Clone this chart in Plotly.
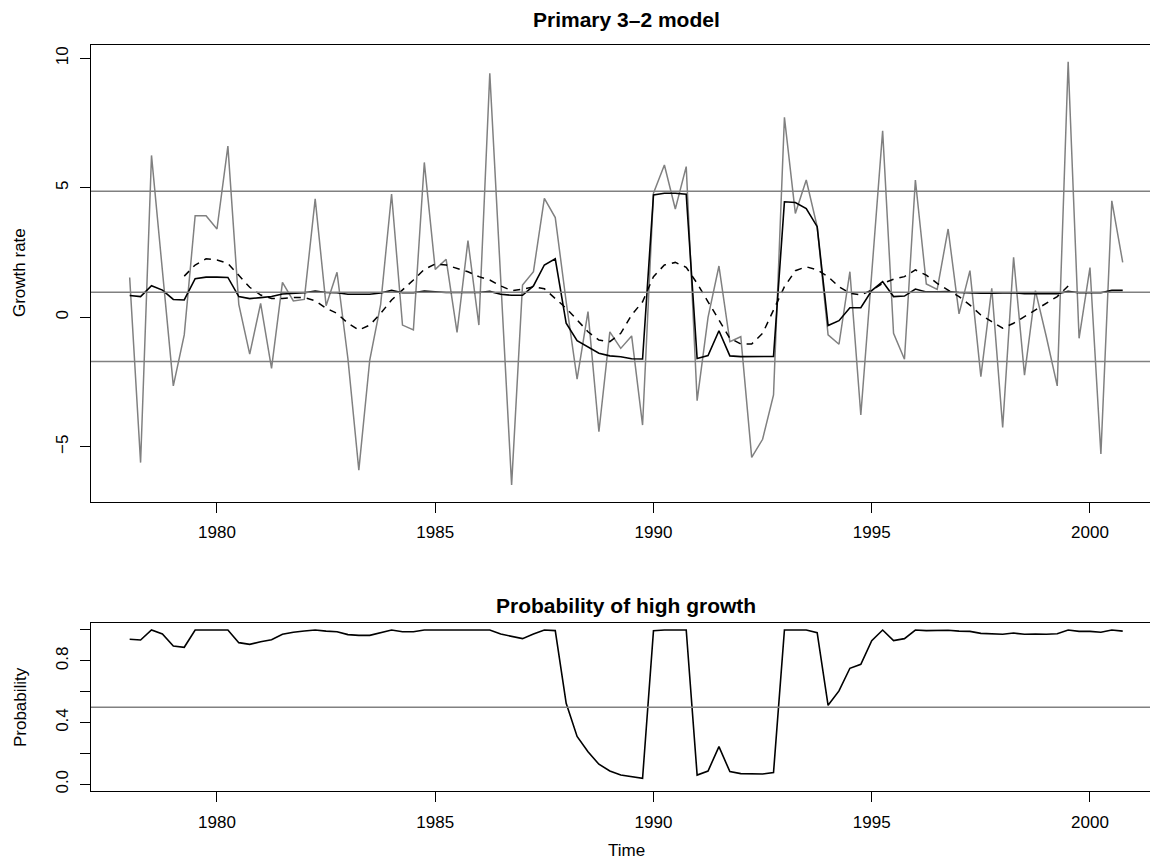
import plotly.graph_objects as go

# quarterly time index (ts start=1978, frequency=4)
start_year = 1978
n_obs = 92
time = [start_year + q / 4 for q in range(n_obs)]

growth = [1.54, -5.61, 6.25, 1.8, -2.65, -0.68, 3.92, 3.92, 3.41, 6.61,
          0.5, -1.42, 0.54, -1.97, 1.35, 0.63, 0.69, 4.57, 0.45, 1.74,
          -1.6, -5.9, -1.65, 0.5, 4.76, -0.3, -0.49, 5.98, 1.85, 2.24,
          -0.58, 2.96, -0.3, 9.42, 1.5, -6.47, 1.25, 1.76, 4.59, 3.85,
          0.6, -2.39, 0.22, -4.42, -0.56, -1.2, -0.72, -4.16, 4.79, 5.88,
          4.18, 5.82, -3.22, 0.0, 1.98, -0.94, -0.75, -5.41, -4.71, -3.0,
          7.72, 4.01, 5.3, 3.5, -0.68, -1.04, 1.76, -3.77, 1.7, 7.2,
          -0.62, -1.62, 5.3, 1.29, 1.08, 3.41, 0.13, 1.8, -2.29, 1.12,
          -4.25, 2.32, -2.23, 1.03, -0.75, -2.65, 9.87, -0.81, 1.92, -5.28,
          4.5, 2.12]

fitted = [0.84, 0.8, 1.22, 1.05, 0.69, 0.67, 1.49, 1.55, 1.55, 1.54,
          0.8, 0.72, 0.76, 0.8, 0.9, 0.93, 0.95, 1.01, 0.96, 0.95,
          0.89, 0.89, 0.89, 0.94, 1.04, 0.95, 0.95, 1.01, 0.98, 0.96,
          0.96, 0.96, 0.96, 1.0, 0.89, 0.85, 0.85, 1.21, 2.02, 2.26,
          -0.23, -0.9, -1.16, -1.39, -1.49, -1.52, -1.6, -1.61, 4.72, 4.79,
          4.79, 4.75, -1.59, -1.48, -0.52, -1.49, -1.52, -1.52, -1.52, -1.51,
          4.46, 4.43, 4.2, 3.5, -0.32, -0.13, 0.37, 0.37, 1.03, 1.38,
          0.8, 0.82, 1.09, 0.98, 0.98, 0.99, 0.96, 0.94, 0.93, 0.93,
          0.93, 0.95, 0.91, 0.91, 0.91, 0.91, 1.0, 0.95, 0.95, 0.95,
          1.04, 1.04]

trend = [None, None, None, None, None,
         1.59, 2.02, 2.26, 2.21, 2.08,
         1.63, 1.16, 0.86, 0.73, 0.73, 0.76, 0.76, 0.64, 0.35, 0.15,
         -0.23, -0.49, -0.3, 0.15, 0.67, 1.05, 1.44, 1.85, 2.06, 2.02,
         1.89, 1.76, 1.57, 1.44, 1.21, 1.03, 1.08, 1.18, 1.1, 0.73,
         0.35, -0.1, -0.56, -0.88, -0.94, -0.62, 0.09, 0.6, 1.57, 2.02,
         2.12, 1.93, 1.31, 0.6, -0.1, -0.81, -1.03, -1.03, -0.62, 0.28,
         1.18, 1.8, 1.95, 1.83, 1.57, 1.18, 0.93, 0.86, 1.05, 1.31,
         1.47, 1.57, 1.83, 1.63, 1.31, 1.05, 0.8, 0.47, 0.09, -0.17,
         -0.42, -0.23, 0.02, 0.28, 0.54, 0.8, 1.21,
         None, None, None, None, None]

prob_high = [0.94, 0.935, 1.0, 0.974, 0.896, 0.888, 1.0, 1.0, 1.0, 1.0,
             0.918, 0.907, 0.924, 0.937, 0.972, 0.985, 0.993, 1.0, 0.993, 0.989,
             0.97, 0.965, 0.965, 0.98, 1.0, 0.989, 0.989, 1.0, 1.0, 1.0,
             0.998, 1.0, 0.996, 1.0, 0.974, 0.957, 0.944, 0.974, 1.0, 0.996,
             0.525, 0.31, 0.211, 0.13, 0.086, 0.06, 0.047, 0.039, 0.995, 1.0,
             1.0, 1.0, 0.06, 0.086, 0.244, 0.082, 0.069, 0.067, 0.067, 0.076,
             1.0, 1.0, 1.0, 0.983, 0.512, 0.605, 0.752, 0.778, 0.931, 1.0,
             0.931, 0.944, 1.0, 0.996, 0.996, 0.998, 0.993, 0.991, 0.978, 0.976,
             0.972, 0.98, 0.972, 0.974, 0.972, 0.976, 1.0, 0.991, 0.991, 0.985,
             1.0, 0.993]

regime_means = [4.87, 0.97, -1.71]
prob_threshold = [0.5]

x_ticks = [1980, 1985, 1990, 1995, 2000]
y1_ticks = [-5, 0, 5, 10]
y2_ticks = [0.0, 0.2, 0.4, 0.6, 0.8, 1.0]
y2_ticktext = ["0.0", "", "0.4", "", "0.8", ""]

FONT = "Liberation Sans, Arial, Helvetica, sans-serif"
GRAY = "#808080"

fig = go.Figure()

fig.add_trace(go.Scatter(x=time, y=growth, mode="lines",
                         line=dict(color=GRAY, width=1.5), xaxis="x", yaxis="y"))
fig.add_trace(go.Scatter(x=time, y=fitted, mode="lines",
                         line=dict(color="black", width=1.6), xaxis="x", yaxis="y"))
fig.add_trace(go.Scatter(x=time, y=trend, mode="lines",
                         line=dict(color="black", width=1.5, dash="7px,6px"),
                         xaxis="x", yaxis="y"))
fig.add_trace(go.Scatter(x=time, y=prob_high, mode="lines",
                         line=dict(color="black", width=1.6), xaxis="x2", yaxis="y2"))

shapes = []
for m in regime_means:
    shapes.append(dict(type="line", xref="x domain", x0=0, x1=1, yref="y", y0=m, y1=m,
                       line=dict(color=GRAY, width=1.5), layer="above"))
for m in prob_threshold:
    shapes.append(dict(type="line", xref="x2 domain", x0=0, x1=1, yref="y2", y0=m, y1=m,
                       line=dict(color=GRAY, width=1.5), layer="above"))

common_x = dict(range=[1977.114, 2001.375], tickvals=x_ticks, ticks="outside", ticklen=10,
                tickwidth=1.3, tickcolor="black", showline=True, linecolor="black",
                linewidth=1.4, mirror=True, showgrid=False, zeroline=False,
                tickfont=dict(family=FONT, size=17, color="black"), ticklabelstandoff=5)
common_y = dict(ticks="outside", ticklen=10, tickwidth=1.3, tickcolor="black",
                showline=True, linecolor="black", linewidth=1.4, mirror=False,
                showgrid=False, zeroline=False, tickangle=-90,
                tickfont=dict(family=FONT, size=17, color="black"), ticklabelstandoff=5)

fig.update_layout(
    width=1150, height=868,
    margin=dict(l=91, r=0, t=45, b=77),
    paper_bgcolor="white", plot_bgcolor="white",
    showlegend=False,
    font=dict(family=FONT, color="black"),
    xaxis=dict(domain=[0, 1], anchor="y", **common_x),
    yaxis=dict(domain=[0.3878, 1], anchor="x", range=[-7.12, 10.514],
               tickvals=y1_ticks, **common_y),
    xaxis2=dict(domain=[0, 1], anchor="y2", **common_x),
    yaxis2=dict(domain=[0, 0.2248], anchor="x2", range=[-0.0434, 1.0434],
                tickvals=y2_ticks, ticktext=y2_ticktext, **common_y),
    shapes=shapes,
    annotations=[
        dict(text="<b>Primary 3\u20132 model</b>", xref="paper", yref="paper",
             x=0.5052, y=1.0342, xanchor="center", yanchor="middle", showarrow=False,
             font=dict(family=FONT, size=21, color="black")),
        dict(text="<b>Probability of high growth</b>", xref="paper", yref="paper",
             x=0.5052, y=0.2493, xanchor="center", yanchor="middle", showarrow=False,
             font=dict(family=FONT, size=21, color="black")),
        dict(text="Growth rate", xref="paper", yref="paper", x=-0.067, y=0.6944,
             textangle=-90, xanchor="center", yanchor="middle", showarrow=False,
             font=dict(family=FONT, size=17, color="black")),
        dict(text="Probability", xref="paper", yref="paper", x=-0.067, y=0.1126,
             textangle=-90, xanchor="center", yanchor="middle", showarrow=False,
             font=dict(family=FONT, size=17, color="black")),
        dict(text="Time", xref="paper", yref="paper", x=0.5052, y=-0.0804,
             xanchor="center", yanchor="middle", showarrow=False,
             font=dict(family=FONT, size=17, color="black")),
    ],
)

fig.write_html("out.html", config={"displayModeBar": False},
               post_script="document.body.style.margin='0';document.body.style.overflow='hidden';")
